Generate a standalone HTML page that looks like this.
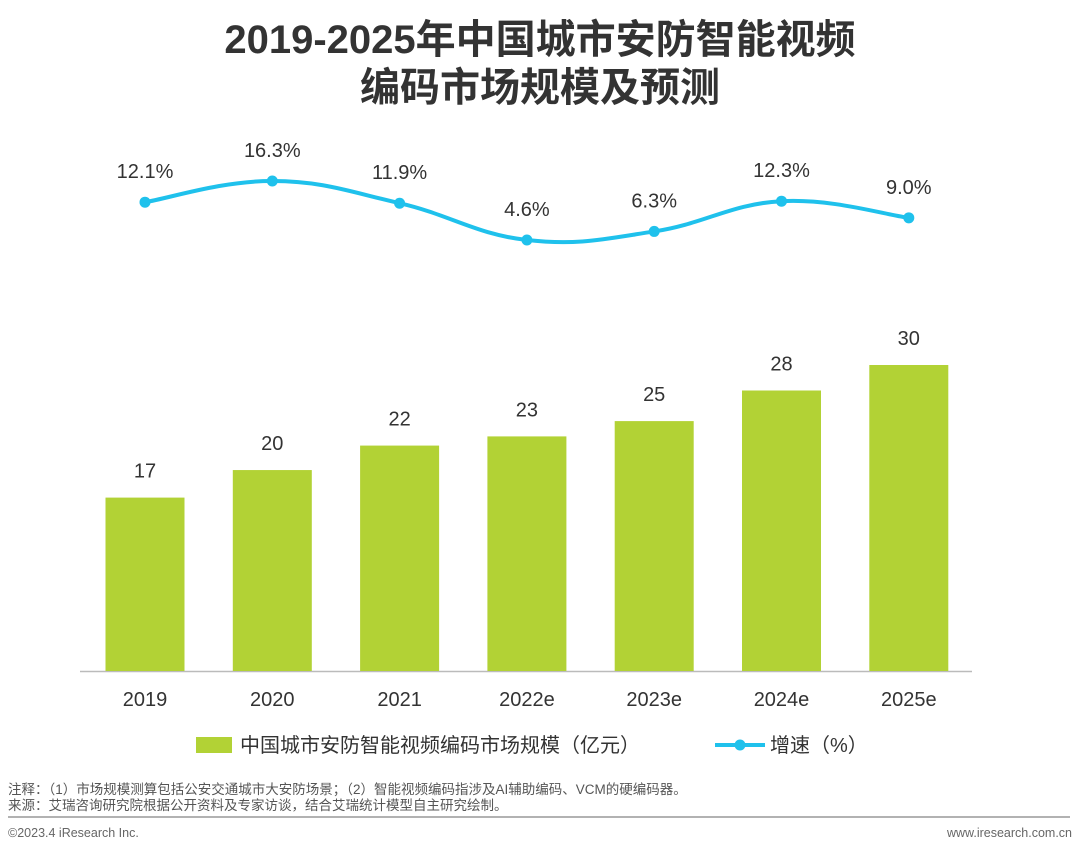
<!DOCTYPE html>
<html><head><meta charset="utf-8"><style>
body{margin:0;background:#fff;width:1080px;height:851px;overflow:hidden;font-family:"Liberation Sans","Noto Sans CJK SC",sans-serif;}
svg text{font-family:"Liberation Sans","Noto Sans CJK SC",sans-serif;}
</style></head><body>
<svg id="c" width="1080" height="851">
<text x="540" y="53" text-anchor="middle" font-size="40" font-weight="bold" fill="#333">2019-2025年中国城市安防智能视频</text>
<text x="540" y="101" text-anchor="middle" font-size="40" font-weight="bold" fill="#333">编码市场规模及预测</text>
<line x1="80" y1="671.5" x2="972" y2="671.5" stroke="#bbb" stroke-width="1.5"/>
<g id="bars"></g><g id="line"></g>
<rect x="196" y="737" width="36" height="16" fill="#b2d235"/>
<text x="240" y="752" font-size="20" fill="#333">中国城市安防智能视频编码市场规模（亿元）</text>
<line x1="715" y1="745" x2="765" y2="745" stroke="#1fc1ec" stroke-width="4"/>
<circle cx="740" cy="745" r="5.5" fill="#1fc1ec"/>
<text x="770" y="752" font-size="20" fill="#333">增速（%）</text>
<text x="8" y="794" font-size="13.5" fill="#555">注释：（1）市场规模测算包括公安交通城市大安防场景；（2）智能视频编码指涉及AI辅助编码、VCM的硬编码器。</text>
<text x="8" y="810" font-size="13.5" fill="#555">来源：艾瑞咨询研究院根据公开资料及专家访谈，结合艾瑞统计模型自主研究绘制。</text>
<line x1="8" y1="817" x2="1070" y2="817" stroke="#999" stroke-width="1.5"/>
<text x="8" y="837" font-size="12.5" fill="#666">©2023.4 iResearch Inc.</text>
<text x="1072" y="837" text-anchor="end" font-size="12.5" fill="#666">www.iresearch.com.cn</text>
</svg>
<script>
const categories=["2019","2020","2021","2022e","2023e","2024e","2025e"];
const marketSize=[17,19.7,22.1,23,24.5,27.5,30];
const marketLabels=["17","20","22","23","25","28","30"];
const growth=[12.1,16.3,11.9,4.6,6.3,12.3,9.0];
const growthLabels=["12.1%","16.3%","11.9%","4.6%","6.3%","12.3%","9.0%"];
const NS="http://www.w3.org/2000/svg";
const xC=i=>145+i*127.3;
const yBar=v=>671-v*10.2;
const yLine=v=>240-(v-4.6)*5.04;
const bars=document.getElementById('bars'),line=document.getElementById('line');
function mk(tag,attrs,parent){const e=document.createElementNS(NS,tag);for(const k in attrs)e.setAttribute(k,attrs[k]);parent.appendChild(e);return e;}
categories.forEach((c,i)=>{
  const r=mk('rect',{x:xC(i)-39.5,y:yBar(marketSize[i]),width:79,height:671-yBar(marketSize[i]),fill:'#b2d235'},bars);
  
  
  const t=mk('text',{x:xC(i),y:yBar(marketSize[i])-20,'text-anchor':'middle','font-size':20,fill:'#333'},bars);t.textContent=marketLabels[i];
  
  
  const xl=mk('text',{x:xC(i),y:706,'text-anchor':'middle','font-size':20,fill:'#333'},bars);xl.textContent=c;
  
  
});
const pts=growth.map((v,i)=>[xC(i),yLine(v)]);
let d='M'+pts[0][0]+','+pts[0][1];
for(let i=0;i<pts.length-1;i++){const p0=pts[Math.max(0,i-1)],p1=pts[i],p2=pts[i+1],p3=pts[Math.min(pts.length-1,i+2)];const k=0.2;
d+=' C'+(p1[0]+(p2[0]-p0[0])*k)+','+(p1[1]+(p2[1]-p0[1])*k)+' '+(p2[0]-(p3[0]-p1[0])*k)+','+(p2[1]-(p3[1]-p1[1])*k)+' '+p2[0]+','+p2[1];}
const path=mk('path',{d:d,fill:'none',stroke:'#1fc1ec','stroke-width':4},line);


pts.forEach((p,i)=>{
  const c=mk('circle',{cx:p[0],cy:p[1],r:5.5,fill:'#1fc1ec'},line);
  
  
  const t=mk('text',{x:p[0],y:p[1]-24,'text-anchor':'middle','font-size':20,fill:'#333'},line);t.textContent=growthLabels[i];
  
  
});
</script>
</body></html>
